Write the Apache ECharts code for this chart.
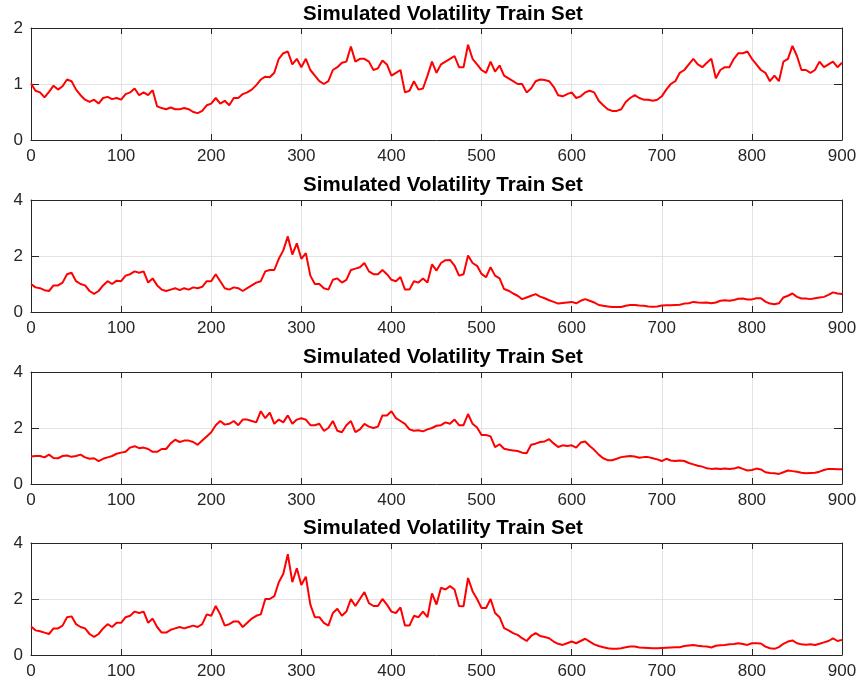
<!DOCTYPE html>
<html>
<head>
<meta charset="utf-8">
<script src="https://cdn.jsdelivr.net/npm/echarts@6/dist/echarts.min.js"></script>
<style>
  html, body { margin: 0; padding: 0; background: #fff; }
  #chart { width: 860px; height: 690px; }
</style>
</head>
<body>
<div id="chart"></div>
<script>
// x runs 0..900, one reading every 5 steps
const xStep = 5;
const xTicks = [0, 100, 200, 300, 400, 500, 600, 700, 800, 900];
const titleText = "Simulated Volatility Train Set";

const vol1 = [
  1.01, 0.88, 0.85, 0.76, 0.86, 0.97, 0.9, 0.96, 1.08, 1.05,
  0.9, 0.8, 0.72, 0.68, 0.72, 0.65, 0.75, 0.77, 0.73, 0.75,
  0.72, 0.82, 0.85, 0.92, 0.8, 0.85, 0.8, 0.89, 0.6, 0.57,
  0.55, 0.58, 0.55, 0.55, 0.57, 0.55, 0.5, 0.48, 0.52, 0.62,
  0.65, 0.75, 0.65, 0.7, 0.62, 0.75, 0.75, 0.82, 0.85, 0.9,
  0.98, 1.08, 1.13, 1.12, 1.2, 1.45, 1.55, 1.58, 1.35, 1.45,
  1.3, 1.45, 1.25, 1.15, 1.05, 1.0, 1.05, 1.25, 1.3, 1.38,
  1.4, 1.67, 1.4, 1.45, 1.45, 1.4, 1.25, 1.28, 1.42, 1.35,
  1.15, 1.2, 1.25, 0.85, 0.88, 1.05, 0.9, 0.92, 1.15, 1.4,
  1.2, 1.35, 1.4, 1.45, 1.5, 1.3, 1.3, 1.7, 1.45, 1.35,
  1.25, 1.2, 1.4, 1.22, 1.33, 1.15, 1.1, 1.05, 1.0, 1.0,
  0.85, 0.92, 1.05, 1.08, 1.07, 1.05, 0.95, 0.8, 0.78, 0.82,
  0.85, 0.75, 0.78, 0.85, 0.88, 0.85, 0.7, 0.62, 0.55, 0.52,
  0.52, 0.55, 0.68, 0.75, 0.8, 0.75, 0.72, 0.72, 0.7, 0.72,
  0.78, 0.9, 1.0, 1.05, 1.2, 1.25, 1.35, 1.45, 1.35, 1.3,
  1.38, 1.45, 1.1, 1.25, 1.3, 1.3, 1.45, 1.55, 1.55, 1.58,
  1.45, 1.35, 1.25, 1.2, 1.05, 1.15, 1.05, 1.4, 1.45, 1.68,
  1.5, 1.25, 1.25, 1.2, 1.25, 1.4, 1.3, 1.35, 1.4, 1.3,
  1.38
];

const vol2 = [
  1.0, 0.88, 0.85, 0.78, 0.75, 0.95, 0.95, 1.05, 1.35, 1.4,
  1.1, 1.0, 0.95, 0.75, 0.65, 0.75, 0.95, 1.1, 1.0, 1.12,
  1.1, 1.3, 1.35, 1.45, 1.4, 1.45, 1.05, 1.2, 0.95, 0.8,
  0.75, 0.8, 0.85, 0.78, 0.85, 0.8, 0.88, 0.85, 0.9, 1.1,
  1.1, 1.35, 1.1, 0.85, 0.8, 0.88, 0.85, 0.75, 0.85, 0.95,
  1.05, 1.1, 1.45, 1.5, 1.5, 1.9, 2.2, 2.7, 2.05, 2.45,
  1.9, 2.1, 1.3, 1.0, 1.0, 0.85, 0.8, 1.15, 1.2, 1.05,
  1.15, 1.5, 1.55, 1.6, 1.75, 1.45, 1.35, 1.35, 1.5, 1.35,
  1.15, 1.1, 1.25, 0.8, 0.8, 1.1, 1.05, 1.2, 1.05, 1.7,
  1.48, 1.75, 1.85, 1.86, 1.66, 1.3, 1.35, 2.02, 1.75, 1.65,
  1.36, 1.24, 1.6, 1.3, 1.2, 0.82, 0.76, 0.66, 0.58, 0.46,
  0.52, 0.58, 0.64, 0.55, 0.49, 0.42, 0.36, 0.3, 0.32, 0.34,
  0.36, 0.31, 0.4, 0.46, 0.4, 0.34, 0.25, 0.22, 0.2, 0.18,
  0.18, 0.18, 0.22, 0.25, 0.25, 0.23, 0.22, 0.2, 0.19, 0.2,
  0.23, 0.24, 0.24, 0.25, 0.26, 0.3, 0.31, 0.36, 0.34, 0.33,
  0.34, 0.31, 0.34, 0.4, 0.42, 0.4, 0.43, 0.47, 0.48, 0.45,
  0.45, 0.49, 0.49, 0.37, 0.3, 0.28, 0.31, 0.52, 0.58, 0.66,
  0.54, 0.48, 0.48, 0.46, 0.49, 0.52, 0.54, 0.61, 0.7, 0.66,
  0.64
];

const vol3 = [
  0.98, 1.0, 1.0, 0.95, 1.05, 0.93, 0.92, 1.0, 1.02, 0.97,
  1.0, 1.05, 0.95, 0.9, 0.92, 0.82, 0.9, 0.95, 1.0, 1.08,
  1.12, 1.15, 1.3, 1.35, 1.28, 1.3, 1.25, 1.15, 1.15, 1.25,
  1.25, 1.45, 1.58, 1.5, 1.55, 1.55, 1.5, 1.4, 1.55, 1.7,
  1.85, 2.1, 2.25, 2.12, 2.15, 2.25, 2.1, 2.3, 2.3, 2.25,
  2.2, 2.6, 2.35, 2.55, 2.15, 2.3, 2.2, 2.45, 2.15, 2.3,
  2.35, 2.3, 2.1, 2.1, 2.15, 1.9, 2.0, 2.25, 1.9, 1.85,
  2.1, 2.25, 1.85, 1.95, 2.15, 2.05, 2.0, 2.05, 2.45, 2.45,
  2.6, 2.35, 2.25, 2.15, 1.95, 1.9, 1.92, 1.88, 1.95, 2.0,
  2.08, 2.1, 2.2, 2.15, 2.3, 2.1, 2.1, 2.5, 2.15, 2.02,
  1.75, 1.75, 1.7, 1.32, 1.42, 1.26, 1.22, 1.2, 1.18, 1.12,
  1.1, 1.4, 1.44, 1.5, 1.52, 1.6, 1.45, 1.32, 1.38, 1.36,
  1.38, 1.3, 1.48, 1.52, 1.36, 1.22, 1.05, 0.92, 0.85, 0.85,
  0.9, 0.96, 0.98, 1.0, 0.98, 0.94, 0.96, 0.96, 0.92, 0.88,
  0.82, 0.9, 0.84, 0.82, 0.84, 0.82, 0.75, 0.7, 0.65, 0.62,
  0.56, 0.54, 0.55, 0.54, 0.55, 0.54, 0.55, 0.6, 0.54, 0.48,
  0.5, 0.55, 0.52, 0.42, 0.39, 0.38, 0.36, 0.42, 0.48, 0.46,
  0.44, 0.4, 0.38, 0.39, 0.4, 0.44, 0.5, 0.54, 0.54, 0.53,
  0.53
];

const vol4 = [
  1.02, 0.88, 0.85, 0.8, 0.75, 0.95, 0.95, 1.05, 1.35, 1.38,
  1.1, 1.0, 0.95, 0.75, 0.65, 0.75, 0.95, 1.1, 1.0, 1.15,
  1.15, 1.35, 1.4, 1.55, 1.5, 1.55, 1.15, 1.3, 1.0, 0.8,
  0.8, 0.9, 0.95, 1.0, 0.95, 1.0, 1.05, 1.0, 1.1, 1.45,
  1.4, 1.75, 1.45, 1.05, 1.1, 1.2, 1.2, 1.0, 1.15, 1.3,
  1.4, 1.45, 2.0, 2.0, 2.1, 2.6, 2.9, 3.6, 2.6, 3.1,
  2.5, 2.8, 1.8, 1.35, 1.35, 1.15, 1.05, 1.5, 1.65, 1.4,
  1.55, 2.0, 1.75, 2.0, 2.25, 1.85, 1.75, 1.75, 2.0, 1.8,
  1.55, 1.5, 1.7, 1.05, 1.05, 1.4, 1.35, 1.55, 1.35, 2.2,
  1.8, 2.4, 2.34, 2.46, 2.34, 1.75, 1.74, 2.75, 2.28, 2.0,
  1.68, 1.68, 2.0, 1.5, 1.35, 0.96, 0.88, 0.78, 0.72, 0.6,
  0.5, 0.68, 0.78, 0.68, 0.64, 0.6, 0.48, 0.4, 0.36, 0.42,
  0.48, 0.42, 0.5, 0.58, 0.48, 0.38, 0.32, 0.28, 0.24, 0.22,
  0.22, 0.24, 0.28, 0.3, 0.3, 0.27, 0.26, 0.25, 0.24, 0.24,
  0.25, 0.26, 0.27, 0.28, 0.28, 0.32, 0.34, 0.36, 0.33, 0.31,
  0.3, 0.27, 0.33, 0.35, 0.36, 0.38, 0.39, 0.42, 0.39, 0.36,
  0.42, 0.42, 0.41, 0.3, 0.24, 0.22, 0.28, 0.4, 0.48, 0.52,
  0.42, 0.38, 0.37, 0.38, 0.36, 0.4, 0.45, 0.5, 0.59, 0.5,
  0.54
];

const yMax = [2, 4, 4, 4];
const yStep = [1, 2, 2, 2];

const allVols = [vol1, vol2, vol3, vol4];
const gridTops = [28, 200, 372, 543];
const titleTops = [-1, 170, 342, 513];

const axisColor = "#262626";
const fontFamily = "Liberation Sans, Arial, sans-serif";

let grids = [], titles = [], xAxes = [], yAxes = [], series = [];

allVols.forEach((vals, i) => {
  grids.push({ left: 31, right: 18, top: gridTops[i], height: 112, containLabel: false });
  titles.push({
    text: titleText,
    left: 438,
    top: titleTops[i],
    textAlign: "center",
    textStyle: { fontFamily: fontFamily, fontSize: 20.5, fontWeight: "bold", color: "#000" }
  });

  const tickInside = { show: true, inside: true, length: 6, lineStyle: { color: axisColor } };
  // bottom and top x axes make the box
  xAxes.push({
    gridIndex: i, type: "value", min: 0, max: 900, interval: 100,
    axisLine: { show: true, onZero: false, lineStyle: { color: axisColor, width: 1 } },
    axisTick: tickInside,
    axisLabel: { color: axisColor, fontSize: 17, fontFamily: fontFamily, margin: 8 },
    splitLine: { show: true, lineStyle: { color: "#e3e3e3", width: 1 } }
  });
  xAxes.push({
    gridIndex: i, type: "value", position: "top", min: 0, max: 900, interval: 100,
    axisLine: { show: true, onZero: false, lineStyle: { color: axisColor, width: 1 } },
    axisTick: tickInside,
    axisLabel: { show: false },
    splitLine: { show: false }
  });
  yAxes.push({
    gridIndex: i, type: "value", min: 0, max: yMax[i], interval: yStep[i],
    axisLine: { show: true, onZero: false, lineStyle: { color: axisColor, width: 1 } },
    axisTick: { show: true, inside: true, length: 8, lineStyle: { color: axisColor } },
    axisLabel: { color: axisColor, fontSize: 17, fontFamily: fontFamily, margin: 8 },
    splitLine: { show: true, lineStyle: { color: "#e3e3e3", width: 1 } }
  });
  yAxes.push({
    gridIndex: i, type: "value", position: "right", min: 0, max: yMax[i], interval: yStep[i],
    axisLine: { show: true, onZero: false, lineStyle: { color: axisColor, width: 1 } },
    axisTick: { show: true, inside: true, length: 8, lineStyle: { color: axisColor } },
    axisLabel: { show: false },
    splitLine: { show: false }
  });

  series.push({
    type: "line",
    xAxisIndex: i * 2,
    yAxisIndex: i * 2,
    data: vals.map((v, k) => [k * xStep, v]),
    showSymbol: false,
    lineStyle: { color: "#ff0000", width: 2 },
    itemStyle: { color: "#ff0000" }
  });
});

const chart = echarts.init(document.getElementById("chart"));
chart.setOption({
  animation: false,
  backgroundColor: "#fff",
  title: titles,
  grid: grids,
  xAxis: xAxes,
  yAxis: yAxes,
  series: series
});
</script>
</body>
</html>
